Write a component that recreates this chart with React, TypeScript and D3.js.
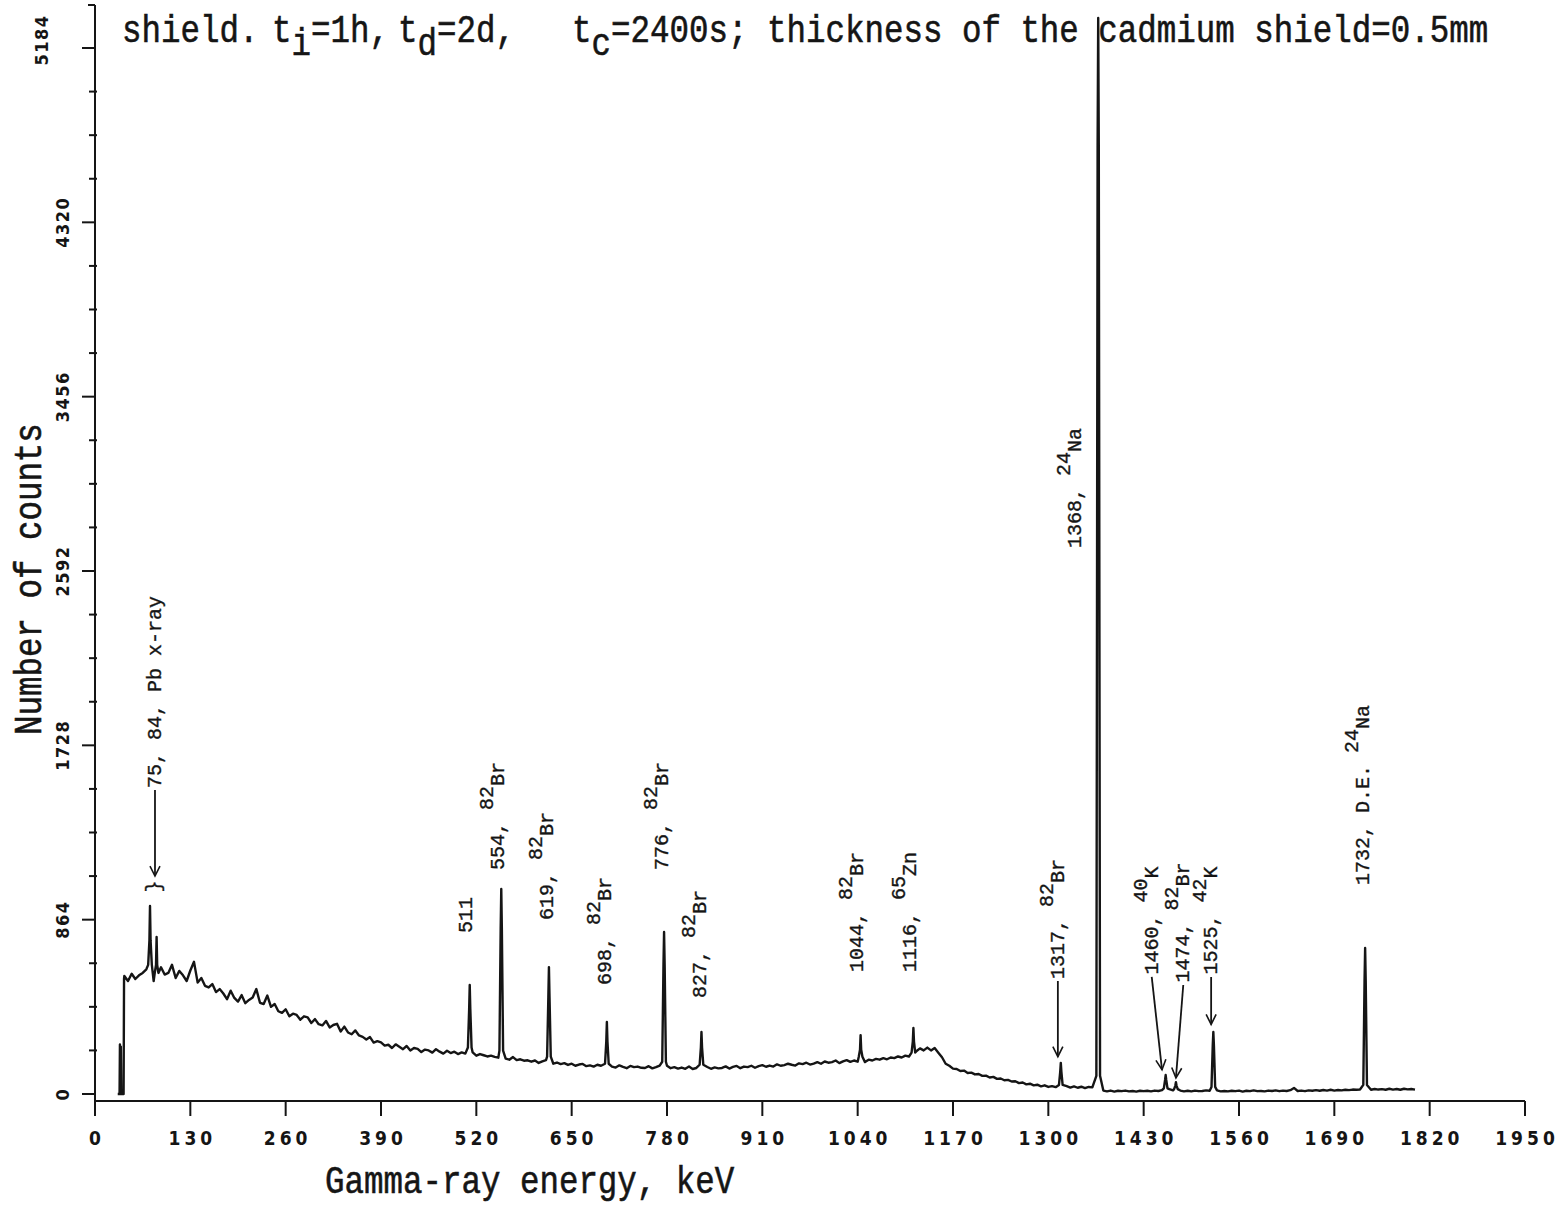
import React from "react";
import * as d3 from "d3";

const W = 1566;
const H = 1207;

// Axis tick values (keV and counts)
const xTickValues = [0, 130, 260, 390, 520, 650, 780, 910, 1040, 1170, 1300, 1430, 1560, 1690, 1820, 1950];
const yTickValues = [0, 864, 1728, 2592, 3456, 4320, 5184];
const yMinorStep = 216;

// Detector threshold region, before the continuum starts
const onsetKeV = [31, 33.5, 34, 34.6, 35.2, 35.8, 39, 39.6];
const onsetCounts = [0, 0, 245, 30, 235, 0, 0, 570];

// Continuum counts sampled every 5 keV from 40 keV to 1800 keV
const continuumStartKeV = 40;
const continuumStepKeV = 5;
const continuumCounts = [
  585, 560, 596, 570, 588, 600, 618, 620, 560, 630,
  628, 592, 600, 640, 575, 610, 588, 560, 612, 655,
  552, 575, 536, 528, 545, 505, 520, 498, 470, 512,
  476, 458, 490, 450, 466, 478, 520, 452, 446, 488,
  432, 446, 410, 402, 420, 385, 398, 392, 368, 385,
  380, 352, 371, 346, 340, 362, 330, 342, 348, 310,
  334, 305, 296, 315, 290, 283, 270, 282, 255, 262,
  256, 240, 244, 228, 246, 234, 222, 238, 216, 228,
  224, 208, 220, 216, 205, 222, 210, 200, 214, 203,
  210, 198, 206, 200, 205, 206, 190, 198, 192, 186,
  190, 184, 180, 180, 175, 170, 183, 168, 172, 165,
  167, 160, 166, 154, 162, 168, 160, 150, 156, 148,
  153, 144, 150, 140, 146, 149, 138, 142, 136, 145,
  140, 133, 140, 136, 131, 142, 134, 128, 139, 133,
  136, 130, 129, 138, 127, 133, 141, 138, 140, 128,
  133, 126, 131, 125, 136, 124, 129, 128, 126, 134,
  125, 132, 127, 129, 137, 126, 134, 139, 128, 136,
  133, 140, 130, 138, 143, 135, 141, 136, 147, 140,
  143, 150, 145, 141, 152, 148, 155, 146, 151, 158,
  150, 161, 155, 158, 166, 153, 162, 168, 159, 166,
  160, 163, 158, 170, 166, 174, 170, 178, 172, 181,
  178, 186, 181, 190, 186, 200, 212, 226, 216, 230,
  216, 228, 205, 182, 150, 140, 126, 124, 114, 116,
  104, 106, 97, 99, 90, 91, 82, 85, 75, 77,
  68, 70, 62, 63, 54, 57, 48, 51, 43, 46,
  38, 43, 35, 39, 34, 37, 36, 39, 32, 38,
  31, 36, 29, 35, 33, 30, 20, 17, 13, 17,
  12, 16, 14, 17, 13, 15, 12, 16, 14, 16,
  13, 17, 15, 19, 20, 24, 18, 16, 17, 13,
  16, 13, 17, 14, 15, 18, 16, 20, 18, 13,
  15, 13, 16, 14, 17, 12, 16, 14, 18, 14,
  15, 13, 17, 15, 18, 14, 17, 15, 19, 30,
  15, 17, 14, 18, 16, 19, 16, 20, 17, 21,
  17, 20, 18, 21, 19, 22, 21, 22, 22, 25,
  21, 25, 22, 24, 21, 26, 22, 25, 21, 26,
  23, 25, 22,
];

// Photopeaks: energy (keV), top count, count at ±0.8 keV, count at ±2.5 keV
const peakEnergies = [75, 84, 511, 554, 619, 698, 776, 827, 1044, 1116, 1317, 1368, 1460, 1474, 1525, 1732];
const peakTops = [932, 778, 540, 1016, 629, 357, 803, 307, 292, 327, 154, 5333, 94, 59, 307, 724];
const peakShoulders = [760, 640, 420, 820, 480, 260, 640, 230, 220, 260, 110, 4700, 70, 42, 240, 560];
const peakFeet = [640, 600, 230, 215, 185, 150, 160, 145, 185, 205, 45, 90, 28, 24, 35, 45];

// Peak identifications: [text, raised?] segments, anchored at (keV, count)
type Seg = [string, boolean];
const peakLabels: { keV: number; count: number; segs: Seg[] }[] = [
  { keV: 81.8, count: 1517, segs: [["75, 84, Pb x-ray", false]] },
  { keV: 506, count: 798, segs: [["511", false]] },
  { keV: 549.6, count: 1110, segs: [["554, ", false], ["82", true], ["Br", false]] },
  { keV: 616, count: 862, segs: [["619, ", false], ["82", true], ["Br", false]] },
  { keV: 695, count: 540, segs: [["698, ", false], ["82", true], ["Br", false]] },
  { keV: 773, count: 1110, segs: [["776, ", false], ["82", true], ["Br", false]] },
  { keV: 825, count: 476, segs: [["827, ", false], ["82", true], ["Br", false]] },
  { keV: 1039, count: 605, segs: [["1044, ", false], ["82", true], ["Br", false]] },
  { keV: 1111, count: 605, segs: [["1116, ", false], ["65", true], ["Zn", false]] },
  { keV: 1313, count: 570, segs: [["1317, ", false], ["82", true], ["Br", false]] },
  { keV: 1336, count: 2706, segs: [["1368, ", false], ["24", true], ["Na", false]] },
  { keV: 1441, count: 592, segs: [["1460, ", false], ["40", true], ["K", false]] },
  { keV: 1484, count: 552, segs: [["1474, ", false], ["82", true], ["Br", false]] },
  { keV: 1522, count: 592, segs: [["1525, ", false], ["42", true], ["K", false]] },
  { keV: 1729, count: 1036, segs: [["1732, D.E. ", false], ["24", true], ["Na", false]] },
];

// Pointer arrows from a label down to its peak: [fromKeV, fromCount, toKeV, toCount]
const pointerArrows: [number, number, number, number][] = [
  [81.8, 1507, 81.8, 1080],
  [1313, 560, 1313, 185],
  [1441, 580, 1455, 120],
  [1484, 540, 1474, 80],
  [1522, 580, 1522, 345],
];
const braceAt: [number, number] = [81.8, 1028];

const typeFont = "'Liberation Mono', 'DejaVu Sans Mono', monospace";
const plotFont = "'Liberation Sans Narrow', 'DejaVu Sans Condensed', 'Liberation Sans', sans-serif";
const ink = "#151515";

export default function App() {
  const x = d3.scaleLinear().domain([0, 1950]).range([95, 1525]);
  const y = d3.scaleLinear().domain([0, 5184]).range([1094, 48]);

  const peakWindow = 3.5;
  const continuum: [number, number][] = continuumCounts
    .map((c, i) => [continuumStartKeV + i * continuumStepKeV, c] as [number, number])
    .filter(([e]) => !peakEnergies.some((p) => Math.abs(e - p) <= peakWindow));
  const onset: [number, number][] = onsetKeV.map((e, i) => [e, onsetCounts[i]]);
  const peaks: [number, number][] = peakEnergies.flatMap((e, i) => [
    [e - 2.5, peakFeet[i]],
    [e - 0.8, peakShoulders[i]],
    [e, peakTops[i]],
    [e + 0.8, peakShoulders[i]],
    [e + 2.5, peakFeet[i]],
  ] as [number, number][]);
  const spectrum = [...onset, ...continuum, ...peaks].sort((a, b) => a[0] - b[0]);

  const line = d3
    .line<[number, number]>()
    .x((d) => x(d[0]))
    .y((d) => y(d[1]));

  const axisY = 1101;
  const yMinor = d3.range(0, 5184 + 1, yMinorStep).filter((v) => !yTickValues.includes(v));

  return (
    <svg
      width={W}
      height={H}
      viewBox={`0 0 ${W} ${H}`}
      style={{ position: "absolute", left: 0, top: 0, background: "#fff" }}
    >
      <defs>
        <marker id="ptr" markerUnits="userSpaceOnUse" markerWidth={14} markerHeight={14} refX={11} refY={6} orient="auto">
          <path d="M1,1 L11,6 L1,11" fill="none" stroke={ink} strokeWidth={1.6} />
        </marker>
      </defs>
      <rect x={0} y={0} width={W} height={H} fill="#fff" />

      {/* caption line */}
      <g fontFamily={typeFont} fontSize={32.5} fill={ink} stroke={ink} strokeWidth={0.5} style={{ whiteSpace: "pre" }}>
        <text transform="translate(0,42) scale(1,1.2)">
          <tspan x={122}>shield.</tspan>
          <tspan x={272}>t</tspan>
          <tspan dy={11}>i</tspan>
          <tspan dy={-11}>=1h,</tspan>
          <tspan x={398}>t</tspan>
          <tspan dy={11}>d</tspan>
          <tspan dy={-11}>=2d,</tspan>
          <tspan x={572}>t</tspan>
          <tspan dy={11}>c</tspan>
          <tspan dy={-11}>=2400s;</tspan>
          <tspan x={767}>thickness of the cadmium shield=0.5mm</tspan>
        </text>
      </g>

      {/* y axis */}
      <g stroke={ink} strokeWidth={2} fill="none">
        <line x1={95} y1={5} x2={95} y2={1115} />
        <line x1={88} y1={5} x2={95} y2={5} />
        {yTickValues.map((v) => (
          <line key={v} x1={82} x2={95} y1={y(v)} y2={y(v)} />
        ))}
        {yMinor.map((v) => (
          <line key={v} x1={89} x2={97} y1={y(v)} y2={y(v)} />
        ))}
      </g>
      <g fontFamily={plotFont} fontWeight="bold" fontSize={18} fill={ink} letterSpacing={1.5}>
        {yTickValues.map((v) => {
          const top = v === 5184;
          const bx = top ? 48 : 69;
          const cy = top ? y(v) - 8 : y(v);
          return (
            <text key={v} transform={`translate(${bx},${cy}) rotate(-90)`} textAnchor="middle">
              {v}
            </text>
          );
        })}
      </g>

      {/* x axis */}
      <g stroke={ink} strokeWidth={2} fill="none">
        <line x1={95} x2={x(1950)} y1={axisY} y2={axisY} />
        {xTickValues.map((v) => (
          <line key={v} x1={x(v)} x2={x(v)} y1={axisY} y2={axisY + 15} />
        ))}
      </g>
      <g fontFamily={plotFont} fontWeight="bold" fontSize={19} fill={ink} letterSpacing={4}>
        {xTickValues.map((v) => (
          <text key={v} x={x(v) + 2} y={1145} textAnchor="middle">
            {v}
          </text>
        ))}
      </g>

      {/* axis titles */}
      <g fontFamily={typeFont} fontSize={32.5} fill={ink} stroke={ink} strokeWidth={0.5}>
        <text transform="translate(325,1193) scale(1,1.2)">Gamma-ray energy, keV</text>
        <text transform="translate(41,735) rotate(-90) scale(1,1.2)">Number of counts</text>
      </g>

      {/* spectrum */}
      <path d={line(spectrum) ?? ""} fill="none" stroke={ink} strokeWidth={2.4} strokeLinejoin="round" />

      {/* peak labels */}
      <g fontFamily={typeFont} fontSize={20} fill={ink} stroke={ink} strokeWidth={0.35} style={{ whiteSpace: "pre" }}>
        {peakLabels.map((a, i) => (
          <text key={i} transform={`translate(${x(a.keV) + 6},${y(a.count)}) rotate(-90)`}>
            {a.segs.map(([t, sup], j) => {
              const prevSup = j > 0 && a.segs[j - 1][1];
              const dy = sup ? -11 : prevSup ? 11 : 0;
              return (
                <tspan key={j} dy={dy}>
                  {t}
                </tspan>
              );
            })}
          </text>
        ))}
        <text
          transform={`translate(${x(braceAt[0])},${y(braceAt[1])}) rotate(-90)`}
          textAnchor="middle"
          dominantBaseline="central"
        >
          {"}"}
        </text>
      </g>

      {/* pointer arrows */}
      <g stroke={ink} strokeWidth={1.8} fill="none">
        {pointerArrows.map(([e0, c0, e1, c1], i) => (
          <line key={i} x1={x(e0)} y1={y(c0)} x2={x(e1)} y2={y(c1)} markerEnd="url(#ptr)" />
        ))}
      </g>
    </svg>
  );
}
